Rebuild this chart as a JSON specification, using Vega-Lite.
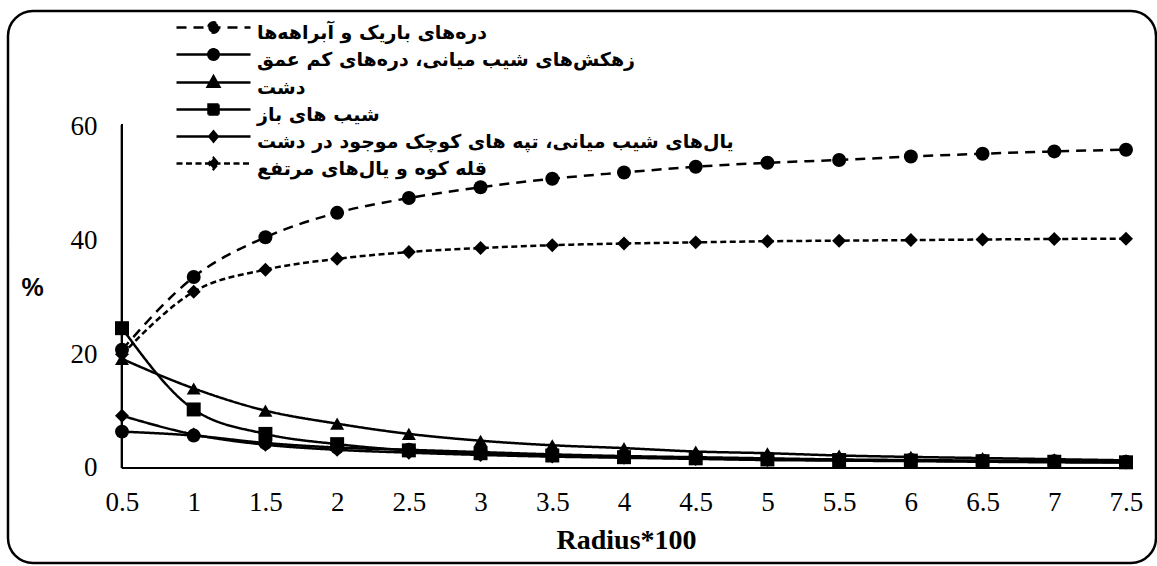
{
  "$schema": "https://vega.github.io/schema/vega-lite/v6.json",
  "width": 1148,
  "height": 552,
  "autosize": "none",
  "padding": {"left": 8, "top": 11, "right": 1, "bottom": 3},
  "background": "white",
  "config": {
    "view": {"stroke": "black", "strokeWidth": 2.5, "cornerRadius": 25},
    "font": "Liberation Serif",
    "legend": {
      "orient": "none", "legendX": 196, "legendY": 7, "title": null, "padding": 0,
      "symbolSize": 256, "symbolStrokeWidth": 2.5, "symbolFillColor": "black", "symbolStrokeColor": "black", "symbolOpacity": 1,
      "labelFont": "DejaVu Sans", "labelFontWeight": "bold", "labelFontSize": 19, "labelColor": "black",
      "labelOffset": 34, "labelLimit": 800, "rowPadding": 1
    }
  },
  "data": {
    "values": [
      {"x": 0.5, "دره‌های باریک و آبراهه‌ها": 20.8, "زهکش‌های شیب میانی، دره‌های کم عمق": 6.4, "دشت": 19.2, "شیب های باز": 24.6, "یال‌های شیب میانی، تپه های کوچک موجود در دشت": 9.2, "قله کوه و یال‌های مرتفع": 20.0},
      {"x": 1, "دره‌های باریک و آبراهه‌ها": 33.6, "زهکش‌های شیب میانی، دره‌های کم عمق": 5.7, "دشت": 14.0, "شیب های باز": 10.3, "یال‌های شیب میانی، تپه های کوچک موجود در دشت": 5.9, "قله کوه و یال‌های مرتفع": 31.0},
      {"x": 1.5, "دره‌های باریک و آبراهه‌ها": 40.6, "زهکش‌های شیب میانی، دره‌های کم عمق": 4.4, "دشت": 10.1, "شیب های باز": 6.0, "یال‌های شیب میانی، تپه های کوچک موجود در دشت": 4.1, "قله کوه و یال‌های مرتفع": 34.9},
      {"x": 2, "دره‌های باریک و آبراهه‌ها": 44.9, "زهکش‌های شیب میانی، دره‌های کم عمق": 3.6, "دشت": 7.8, "شیب های باز": 4.2, "یال‌های شیب میانی، تپه های کوچک موجود در دشت": 3.2, "قله کوه و یال‌های مرتفع": 36.8},
      {"x": 2.5, "دره‌های باریک و آبراهه‌ها": 47.5, "زهکش‌های شیب میانی، دره‌های کم عمق": 3.2, "دشت": 6.0, "شیب های باز": 3.1, "یال‌های شیب میانی، تپه های کوچک موجود در دشت": 2.7, "قله کوه و یال‌های مرتفع": 38.0},
      {"x": 3, "دره‌های باریک و آبراهه‌ها": 49.4, "زهکش‌های شیب میانی، دره‌های کم عمق": 2.8, "دشت": 4.8, "شیب های باز": 2.6, "یال‌های شیب میانی، تپه های کوچک موجود در دشت": 2.3, "قله کوه و یال‌های مرتفع": 38.7},
      {"x": 3.5, "دره‌های باریک و آبراهه‌ها": 50.9, "زهکش‌های شیب میانی، دره‌های کم عمق": 2.4, "دشت": 4.0, "شیب های باز": 2.2, "یال‌های شیب میانی، تپه های کوچک موجود در دشت": 2.0, "قله کوه و یال‌های مرتفع": 39.2},
      {"x": 4, "دره‌های باریک و آبراهه‌ها": 52.0, "زهکش‌های شیب میانی، دره‌های کم عمق": 2.1, "دشت": 3.5, "شیب های باز": 1.9, "یال‌های شیب میانی، تپه های کوچک موجود در دشت": 1.8, "قله کوه و یال‌های مرتفع": 39.5},
      {"x": 4.5, "دره‌های باریک و آبراهه‌ها": 53.0, "زهکش‌های شیب میانی، دره‌های کم عمق": 1.9, "دشت": 2.9, "شیب های باز": 1.7, "یال‌های شیب میانی، تپه های کوچک موجود در دشت": 1.6, "قله کوه و یال‌های مرتفع": 39.7},
      {"x": 5, "دره‌های باریک و آبراهه‌ها": 53.7, "زهکش‌های شیب میانی، دره‌های کم عمق": 1.7, "دشت": 2.6, "شیب های باز": 1.5, "یال‌های شیب میانی، تپه های کوچک موجود در دشت": 1.4, "قله کوه و یال‌های مرتفع": 39.9},
      {"x": 5.5, "دره‌های باریک و آبراهه‌ها": 54.2, "زهکش‌های شیب میانی، دره‌های کم عمق": 1.5, "دشت": 2.2, "شیب های باز": 1.4, "یال‌های شیب میانی، تپه های کوچک موجود در دشت": 1.3, "قله کوه و یال‌های مرتفع": 40.0},
      {"x": 6, "دره‌های باریک و آبراهه‌ها": 54.8, "زهکش‌های شیب میانی، دره‌های کم عمق": 1.4, "دشت": 1.95, "شیب های باز": 1.3, "یال‌های شیب میانی، تپه های کوچک موجود در دشت": 1.2, "قله کوه و یال‌های مرتفع": 40.1},
      {"x": 6.5, "دره‌های باریک و آبراهه‌ها": 55.3, "زهکش‌های شیب میانی، دره‌های کم عمق": 1.3, "دشت": 1.75, "شیب های باز": 1.2, "یال‌های شیب میانی، تپه های کوچک موجود در دشت": 1.1, "قله کوه و یال‌های مرتفع": 40.2},
      {"x": 7, "دره‌های باریک و آبراهه‌ها": 55.7, "زهکش‌های شیب میانی، دره‌های کم عمق": 1.2, "دشت": 1.55, "شیب های باز": 1.1, "یال‌های شیب میانی، تپه های کوچک موجود در دشت": 1.0, "قله کوه و یال‌های مرتفع": 40.3},
      {"x": 7.5, "دره‌های باریک و آبراهه‌ها": 56.0, "زهکش‌های شیب میانی، دره‌های کم عمق": 1.1, "دشت": 1.35, "شیب های باز": 1.0, "یال‌های شیب میانی، تپه های کوچک موجود در دشت": 0.95, "قله کوه و یال‌های مرتفع": 40.35}
    ]
  },
  "transform": [
    {"fold": ["دره‌های باریک و آبراهه‌ها", "زهکش‌های شیب میانی، دره‌های کم عمق", "دشت", "شیب های باز", "یال‌های شیب میانی، تپه های کوچک موجود در دشت", "قله کوه و یال‌های مرتفع"], "as": ["series", "value"]}
  ],
  "encoding": {
    "x": {"type": "quantitative", "scale": {"domain": [-0.2948, 7.7092], "nice": false, "zero": false},
      "axis": {"orient": "bottom", "offset": -95, "domain": false, "ticks": false, "grid": false,
        "values": [0.5, 1, 1.5, 2, 2.5, 3, 3.5, 4, 4.5, 5, 5.5, 6, 6.5, 7, 7.5], "format": "~g",
        "labelFont": "Liberation Serif", "labelFontSize": 27, "labelColor": "black", "labelPadding": 21,
        "title": "Radius*100", "titleFont": "Liberation Serif", "titleFontWeight": "bold", "titleFontSize": 28, "titleColor": "black",
        "titleX": 618, "titleY": 80, "titleBaseline": "alphabetic", "titleAnchor": "middle", "titleAlign": "center"}},
    "y": {"type": "quantitative", "scale": {"domain": [-16.716, 80.41], "nice": false, "zero": false},
      "axis": {"orient": "left", "offset": -114, "domain": false, "ticks": false, "grid": false,
        "values": [0, 20, 40, 60], "format": "d",
        "labelFont": "Liberation Serif", "labelFontSize": 27, "labelColor": "black", "labelPadding": 25,
        "title": "%", "titleFont": "Liberation Sans", "titleFontWeight": "bold", "titleFontSize": 25, "titleColor": "black",
        "titleAngle": 0, "titleX": -90, "titleY": 276, "titleBaseline": "middle", "titleAlign": "center"}}
  },
  "layer": [
    {
      "mark": {"type": "rule", "color": "black", "strokeWidth": 2},
      "encoding": {
        "x": {"datum": 0.5, "type": "quantitative"},
        "y": {"datum": 0, "type": "quantitative"},
        "y2": {"datum": 60.4}
      }
    },
    {
      "mark": {"type": "rule", "color": "black", "strokeWidth": 2},
      "encoding": {
        "x": {"datum": 0.5, "type": "quantitative"},
        "x2": {"datum": 7.52},
        "y": {"datum": 0, "type": "quantitative"}
      }
    },
    {
      "mark": {"type": "line", "interpolate": "monotone", "strokeWidth": 2.5, "color": "black"},
      "encoding": {
        "x": {"field": "x", "type": "quantitative"},
        "y": {"field": "value", "type": "quantitative"},
        "detail": {"field": "series"},
        "strokeDash": {"field": "series", "type": "nominal",
          "scale": {"domain": ["دره‌های باریک و آبراهه‌ها", "زهکش‌های شیب میانی، دره‌های کم عمق", "دشت", "شیب های باز", "یال‌های شیب میانی، تپه های کوچک موجود در دشت", "قله کوه و یال‌های مرتفع"],
            "range": [[10, 7], [1, 0], [1, 0], [1, 0], [1, 0], [6, 3.5]]},
          "legend": {
            "encode": {
              "symbols": {"update": {
                "shape": {"signal": "['M-4.625,0H4.625M0.65,0A0.65,0.65,0,1,1,-0.65,0A0.65,0.65,0,1,1,0.65,0Z', 'M-4.625,0H4.625M0.65,0A0.65,0.65,0,1,1,-0.65,0A0.65,0.65,0,1,1,0.65,0Z', 'M-4.625,0H4.625M0,-0.775L0.725,0.525L-0.725,0.525Z', 'M-4.625,0H4.625M-0.625,-0.625H0.625V0.625H-0.625Z', 'M-4.625,0H4.625M0,-0.625L0.525,0L0,0.625L-0.525,0Z', 'M-4.625,0H4.625M0,-0.6875L0.6,0L0,0.6875L-0.6,0Z'][datum.index]"},
                "fill": {"value": "black"},
                "stroke": {"value": "black"},
                "strokeWidth": {"value": 2.5},
                "opacity": {"value": 1}
              }},
              "labels": {"update": {"dy": {"value": 5}}}
            }
          }}
      }
    },
    {
      "mark": {"type": "point", "filled": true, "opacity": 1, "color": "black", "size": 195},
      "encoding": {
        "x": {"field": "x", "type": "quantitative"},
        "y": {"field": "value", "type": "quantitative"},
        "shape": {"field": "series", "type": "nominal",
          "scale": {"domain": ["دره‌های باریک و آبراهه‌ها", "زهکش‌های شیب میانی، دره‌های کم عمق", "دشت", "شیب های باز", "یال‌های شیب میانی، تپه های کوچک موجود در دشت", "قله کوه و یال‌های مرتفع", "-"],
            "range": ["circle", "circle", "triangle-up", "square", "diamond", "diamond", "circle"]},
          "legend": null
        }
      }
    }
  ]
}
